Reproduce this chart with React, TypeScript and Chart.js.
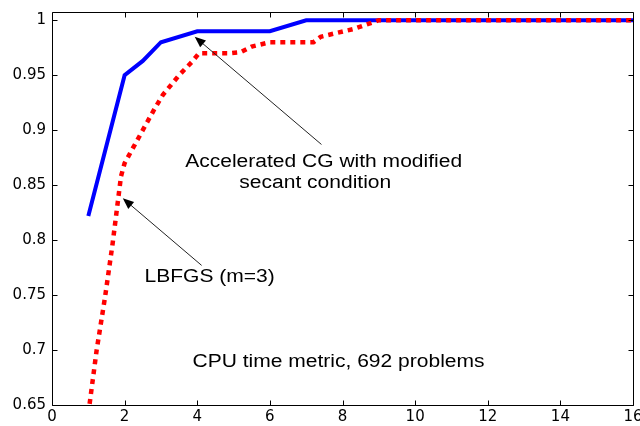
import React, { useEffect, useRef } from "react";
import { Chart, registerables } from "chart.js";

Chart.register(...registerables);

// ---- data ----
const xTicks = [0, 2, 4, 6, 8, 10, 12, 14, 16];
const yTicks = [0.65, 0.7, 0.75, 0.8, 0.85, 0.9, 0.95, 1];
const xMin = 0;
const xMax = 16;
const yMin = 0.65;
const yMax = 1.0075;

const cgLabel = "Accelerated CG with modified secant condition";
const cgX = [1, 2, 2.5, 3, 4, 6, 7, 16];
const cgY = [0.822, 0.95, 0.963, 0.98, 0.99, 0.99, 1, 1];

const lbfgsLabel = "LBFGS (m=3)";
const lbfgsX = [1, 1.23, 1.46, 1.67, 1.9, 2, 2.25, 2.5, 2.8, 3.05, 3.5, 3.85, 4.05, 4.9, 5.2, 5.5, 6, 7.2, 7.4, 8.3, 9, 16];
const lbfgsY = [0.642, 0.7, 0.748, 0.797, 0.858, 0.87, 0.885, 0.9, 0.918, 0.932, 0.95, 0.962, 0.97, 0.97, 0.971, 0.976, 0.98, 0.98, 0.985, 0.992, 1, 1];

const noteTexts = ["Accelerated CG with modified", "secant condition", "LBFGS (m=3)", "CPU time metric, 692 problems"];
const noteX = [7.48, 7.25, 4.34, 7.89];
const noteY = [0.871, 0.852, 0.766, 0.689];

// arrows: from (x, y) to (x, y)
const arrowFromX = [7.42, 4.12];
const arrowFromY = [0.887, 0.777];
const arrowToX = [3.93, 1.95];
const arrowToY = [0.985, 0.838];

const framePlugin = {
  id: "matlabFrame",
  afterDatasetsDraw(chart: any) {
    const ctx = chart.ctx as CanvasRenderingContext2D;
    const { left, right, top, bottom } = chart.chartArea;
    const xs = chart.scales.x;
    const ys = chart.scales.y;
    ctx.save();
    ctx.strokeStyle = "#000";
    ctx.lineWidth = 1;
    const L = Math.round(left) + 0.5;
    const R = Math.round(right) + 0.5;
    const T = Math.round(top) + 0.5;
    const B = Math.round(bottom) + 0.5;
    ctx.beginPath();
    ctx.rect(L, T, R - L, B - T);
    ctx.stroke();
    const tl = 5;
    ctx.beginPath();
    xTicks.forEach((v) => {
      const px = Math.round(xs.getPixelForValue(v)) + 0.5;
      ctx.moveTo(px, B);
      ctx.lineTo(px, B - tl);
      ctx.moveTo(px, T);
      ctx.lineTo(px, T + tl);
    });
    yTicks.forEach((v) => {
      const py = Math.round(ys.getPixelForValue(v)) + 0.5;
      ctx.moveTo(L, py);
      ctx.lineTo(L + tl, py);
      ctx.moveTo(R, py);
      ctx.lineTo(R - tl, py);
    });
    ctx.stroke();

    // arrows
    ctx.strokeStyle = "#222";
    ctx.fillStyle = "#000";
    arrowFromX.forEach((fx, i) => {
      const x1 = xs.getPixelForValue(fx);
      const y1 = ys.getPixelForValue(arrowFromY[i]);
      const x2 = xs.getPixelForValue(arrowToX[i]);
      const y2 = ys.getPixelForValue(arrowToY[i]);
      const ang = Math.atan2(y2 - y1, x2 - x1);
      const hl = 11;
      const hw = 4.5;
      ctx.beginPath();
      ctx.moveTo(x1, y1);
      ctx.lineTo(x2 - Math.cos(ang) * hl * 0.8, y2 - Math.sin(ang) * hl * 0.8);
      ctx.stroke();
      ctx.beginPath();
      ctx.moveTo(x2, y2);
      ctx.lineTo(x2 - Math.cos(ang) * hl - Math.sin(ang) * hw, y2 - Math.sin(ang) * hl + Math.cos(ang) * hw);
      ctx.lineTo(x2 - Math.cos(ang) * hl + Math.sin(ang) * hw, y2 - Math.sin(ang) * hl - Math.cos(ang) * hw);
      ctx.closePath();
      ctx.fill();
    });

    // texts
    ctx.fillStyle = "#000";
    ctx.font = "18px 'Liberation Sans', Arial, sans-serif";
    ctx.textAlign = "center";
    ctx.textBaseline = "middle";
    noteTexts.forEach((t, i) => {
      const px = xs.getPixelForValue(noteX[i]);
      const py = ys.getPixelForValue(noteY[i]);
      ctx.save();
      ctx.translate(px, py);
      ctx.scale(1.168, 1);
      ctx.fillText(t, 0, 0);
      ctx.restore();
    });
    ctx.restore();
  },
};

export default function App() {
  const ref = useRef<HTMLCanvasElement | null>(null);
  useEffect(() => {
    if (!ref.current) return;
    const tickFont = { family: "'DejaVu Sans', sans-serif", size: 15 };
    const chart = new Chart(ref.current, {
      type: "line",
      data: {
        datasets: [
          {
            label: lbfgsLabel,
            data: lbfgsX.map((x, i) => ({ x, y: lbfgsY[i] })),
            borderColor: "#ff0000",
            borderWidth: 4.5,
            borderDash: [5, 5],
            borderCapStyle: "butt",
            pointRadius: 0,
            fill: false,
            tension: 0,
            clip: 0,
            order: 0,
          },
          {
            label: cgLabel,
            data: cgX.map((x, i) => ({ x, y: cgY[i] })),
            borderColor: "#0000ff",
            borderWidth: 4,
            pointRadius: 0,
            fill: false,
            tension: 0,
            clip: 0,
            order: 1,
          },
        ],
      },
      options: {
        animation: false,
        responsive: false,
        layout: { padding: { top: 12, right: 7, left: 0, bottom: 0 } },
        plugins: { legend: { display: false }, tooltip: { enabled: false } },
        scales: {
          x: {
            type: "linear",
            min: xMin,
            max: xMax,
            grid: { display: false, drawTicks: false },
            border: { display: false },
            ticks: { color: "#000", font: tickFont, padding: 3, maxRotation: 0 },
            afterBuildTicks: (s: any) => {
              s.ticks = xTicks.map((v) => ({ value: v }));
            },
            afterFit: (s: any) => {
              s.height = 21;
              s.paddingLeft = 0;
              s.paddingRight = 0;
            },
          },
          y: {
            type: "linear",
            min: yMin,
            max: yMax,
            grid: { display: false, drawTicks: false },
            border: { display: false },
            ticks: { color: "#000", font: tickFont, padding: 6, callback: (v: any) => String(+Number(v).toFixed(2)) },
            afterBuildTicks: (s: any) => {
              s.ticks = yTicks.map((v) => ({ value: v }));
            },
            afterFit: (s: any) => {
              s.width = 52;
              s.paddingTop = 0;
              s.paddingBottom = 0;
            },
          },
        },
      },
      plugins: [framePlugin],
    } as any);
    return () => chart.destroy();
  }, []);
  return (
    <div style={{ position: "fixed", left: 0, top: 0, width: 640, height: 426, background: "#fff" }}>
      <canvas ref={ref} width={640} height={426} style={{ display: "block" }} />
    </div>
  );
}
